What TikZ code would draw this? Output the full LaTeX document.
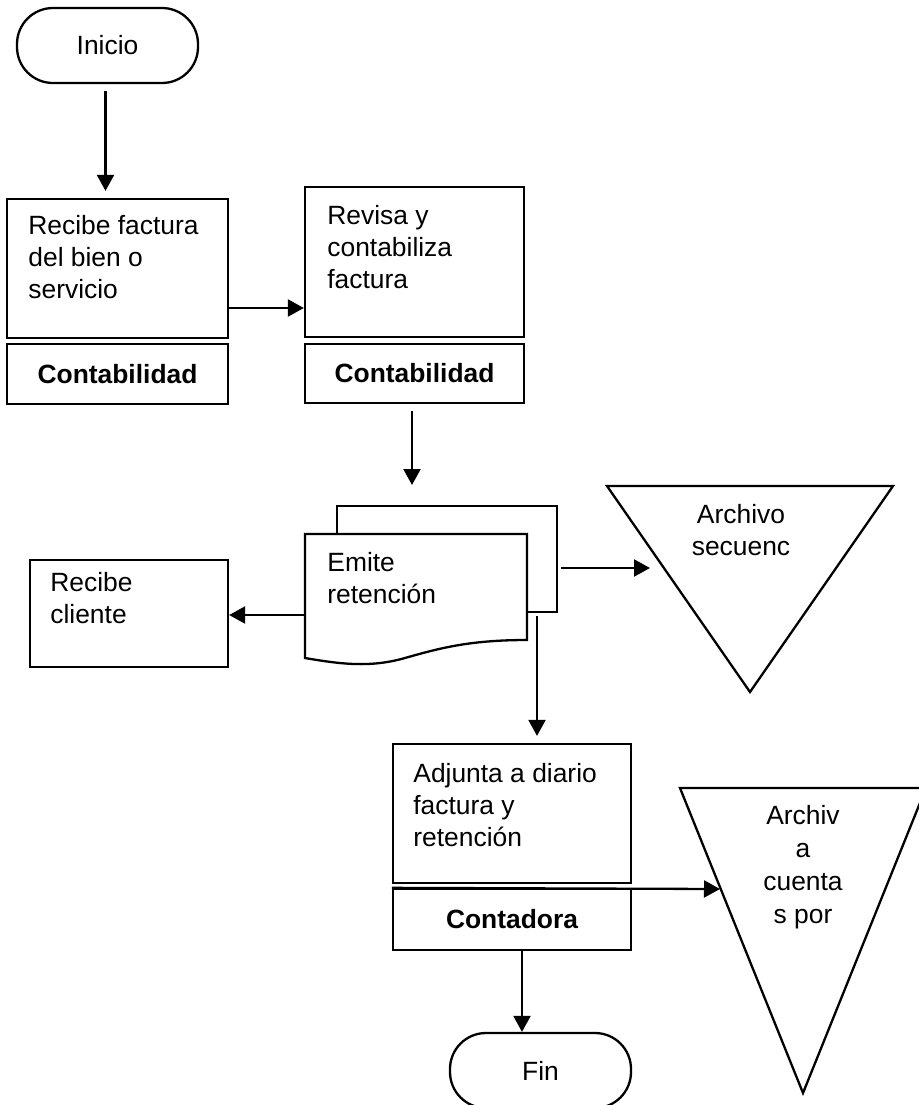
\documentclass[tikz,border=0pt]{standalone}
\usepackage{fontspec}
\setmainfont{Liberation Sans}
\usetikzlibrary{arrows.meta}

\begin{document}
\begin{tikzpicture}[x=0.5pt, y=-0.5pt,
    every node/.style={font=\fontsize{13.2pt}{16pt}\selectfont, inner sep=0pt},
    box/.style={draw, line width=1.15pt, rectangle},
    tag/.style={box, font=\fontsize{13.2pt}{16pt}\selectfont\bfseries},
    term/.style={draw, line width=1.15pt, rounded corners=18pt, minimum width=90.5pt, minimum height=37.5pt},
    txt/.style={align=left, anchor=north west},
    arr/.style={line width=1.15pt, -{Triangle[length=8pt,width=8.5pt]}}]
            \useasboundingbox (0,0) rectangle (918,1105);

            % start and end
            \node[term] (inicio) at (107.5,45.5) {Inicio};
            \node[term] (fin) at (540.5,1070.5) {Fin};

            % process boxes with their owners
            \node[box, minimum width=110.5pt, minimum height=69.5pt] (recibe) at (117.5,268.5) {};
            \node[txt] (recibe-t) at (28,215) {Recibe factura\\del bien o\\servicio};
            \node[tag, minimum width=110.5pt, minimum height=30pt] (conta1) at (117.5,374) {Contabilidad};

            \node[box, minimum width=109.5pt, minimum height=75pt] (revisa) at (414.5,262) {};
            \node[txt] (revisa-t) at (327,205) {Revisa y\\contabiliza\\factura};
            \node[tag, minimum width=109.5pt, minimum height=29.5pt] (conta2) at (414.5,373.5) {Contabilidad};

            \node[box, minimum width=99pt, minimum height=53.5pt] (cliente) at (129,613.5) {};
            \node[txt] (cliente-t) at (50,572) {Recibe\\cliente};

            \node[box, minimum width=119pt, minimum height=69.5pt] (adjunta) at (512,813.5) {};
            \node[txt] (adjunta-t) at (413,763) {Adjunta a diario\\factura y\\retención};
            \node[tag, minimum width=119pt, minimum height=30.5pt] (contadora) at (512,919.5) {Contadora};

            % multi document
            \draw[line width=1.15pt] (337,534) -- (337,506) -- (557,506) -- (557,612) -- (527,612);
            \draw[line width=1.15pt, fill=white] (305,534) -- (527,534) -- (527,640)
                .. controls (470,640) and (440,648) .. (405,658)
                .. controls (370,668) and (340,664) .. (305,658) -- cycle;
            \node[txt] (emite) at (327,552) {Emite\\retención};

            % archive triangles
            \draw[line width=1.15pt] (607,486) -- (893,486) -- (750,692) -- cycle;
            \node[align=center, anchor=north] (archivo1) at (741,504) {Archivo\\secuenc};
            \draw[line width=1.15pt] (680,788) -- (926,788) -- (803,1093) -- cycle;
            \node[align=center, anchor=north, font=\fontsize{13.2pt}{16.5pt}\selectfont] (archivo2) at (803,805) {Archiv\\a\\cuenta\\s por};

            % connector ends
            \coordinate (r1) at (228,308);
            \coordinate (p1) at (412,485);
            \coordinate (d1) at (305,615);
            \coordinate (d2) at (561,568);
            \coordinate (s1) at (650,568);
            \coordinate (d3) at (537,616);
            \coordinate (s2) at (720,889);
            \coordinate (f1) at (522,950);

            % connectors
            \draw[arr, shorten <=3.5pt, shorten >=3.5pt] ([xshift=-1pt]inicio.south) -- ([xshift=-1pt]inicio.south |- recibe.north);
            \draw[arr] (r1) -- (r1 -| revisa.west);
            \draw[arr] (conta2.south -| p1) ++(0,7) -- (p1);
            \draw[arr] (d1) -- (d1 -| cliente.east);
            \draw[arr] (d2) -- (s1);
            \draw[arr, shorten >=3.5pt] (d3) -- (d3 |- adjunta.north);
            \draw[arr] (contadora.north west) -- (s2);
            \draw[arr] (f1) -- (f1 |- fin.north);
        \end{tikzpicture}
\end{document}
